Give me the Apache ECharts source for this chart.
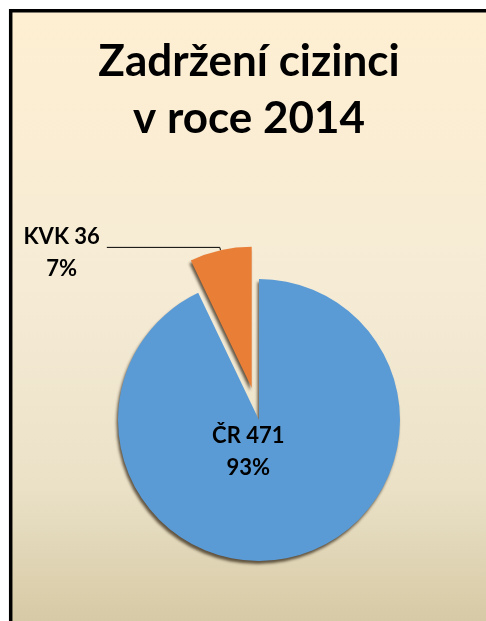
<!DOCTYPE html>
<html>
<head>
<meta charset="utf-8">
<script src="https://cdn.jsdelivr.net/npm/echarts@6/dist/echarts.min.js"></script>
<style>
html,body{margin:0;padding:0;background:#fff;}
#c{width:486px;height:621px;}
</style>
</head>
<body>
<div id="c"></div>
<script>
const titleLines = ['Zadržení cizinci', 'v roce 2014'];
const categories = ['ČR', 'KVK'];
const values = [471, 36];
const colors = ['#5B9BD5', '#E97F37'];

const chart = echarts.init(document.getElementById('c'));
const FONT = 'Lato';

const data = categories.map((name, i) => {
  const item = {
    name: name,
    value: values[i],
    itemStyle: { color: colors[i] }
  };
  if (i === 0) {
    item.label = {
      position: 'inside',
      padding: 0,
      formatter: '{a|{b} {c}}\n{a|{d}%}'
    };
  } else {
    item.selected = true;
  }
  return item;
});

chart.setOption({
  backgroundColor: '#ffffff',
  animation: false,
  graphic: [{
    type: 'rect',
    z: -10,
    shape: { x: 10.7, y: 10.7, width: 520, height: 660 },
    style: {
      fill: new echarts.graphic.LinearGradient(0, 0, 0, 1, [
        { offset: 0, color: '#FEEFD2' },
        { offset: 0.45, color: '#F5EBD5' },
        { offset: 0.72, color: '#EAE1C7' },
        { offset: 0.93, color: '#D6C9A4' },
        { offset: 1, color: '#D2C49E' }
      ]),
      stroke: '#000000',
      lineWidth: 3.5
    }
  }],
  title: {
    text: titleLines.join('\n'),
    left: 244,
    top: 28,
    textAlign: 'center',
    textStyle: {
      fontFamily: FONT,
      fontWeight: 'bold',
      fontSize: 44,
      lineHeight: 57,
      color: '#000000'
    }
  },
  series: [{
    type: 'pie',
    center: [259, 420],
    radius: 141,
    startAngle: 90,
    clockwise: true,
    selectedMode: 'single',
    selectedOffset: 33,
    percentPrecision: 0,
    avoidLabelOverlap: false,
    itemStyle: {
      shadowColor: 'rgba(40,25,10,0.7)',
      shadowBlur: 3,
      shadowOffsetX: -1.5,
      shadowOffsetY: 3
    },
    label: {
      show: true,
      position: 'outside',
      formatter: '{a|{b} {c}}\n{a|{d}%}',
      distanceToLabelLine: 7,
      padding: [12, 0, 0, 0],
      rich: {
        a: {
          fontFamily: FONT,
          fontWeight: 'bold',
          fontSize: 22,
          lineHeight: 32,
          color: '#000000',
          align: 'center'
        }
      }
    },
    labelLine: {
      show: true,
      length: 3,
      length2: 113,
      lineStyle: { color: '#000000', width: 1 }
    },
    labelLayout: function (params) {
      if (params.dataIndex === 0) {
        return { dx: -27, dy: -40 };
      }
      return {};
    },
    emphasis: { disabled: true },
    data: data
  }]
});
</script>
</body>
</html>
